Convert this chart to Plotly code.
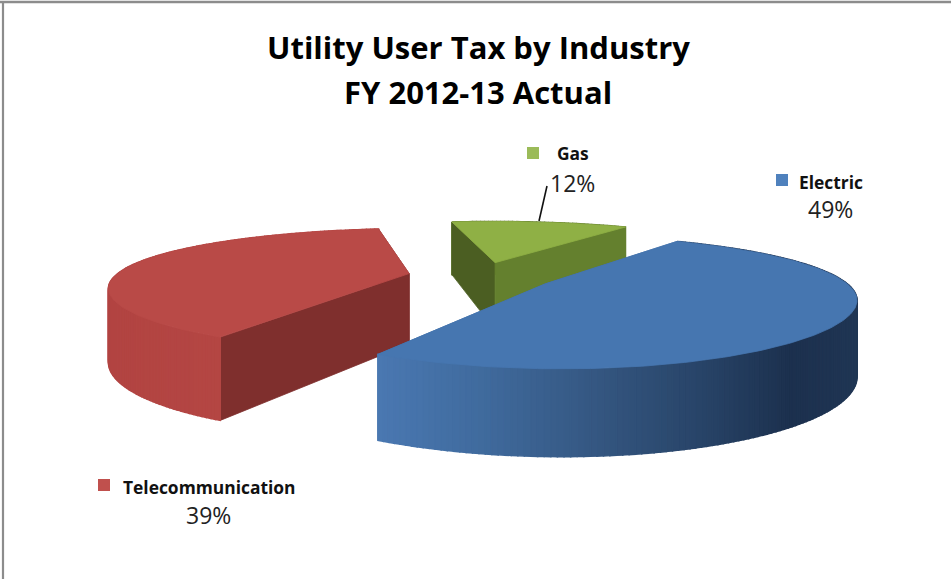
import numpy as np
import plotly.graph_objects as go

# Share of utility user tax by industry, FY 2012-13 (percent)
categories = ["Electric", "Telecommunication", "Gas"]
shares = [49, 39, 12]

# Legend and value label anchors per industry (pixel-based axes)
legend_marker_x = [782, 104, 533]
legend_marker_y = [180, 485, 153]
legend_text_x = [831, 208.5, 573]
legend_text_y = [182, 487, 153]
value_text_x = [830, 208, 572]
value_text_y = [209, 515, 183]

# Projection of the pie disc: tilted, with perspective toward the viewer
CX, CY = 481.0, 276.0
RX, RY = 294.0, 58.0
PERSPECTIVE_X = 0.20
PERSPECTIVE_Y = 0.26
DEPTH = 71.0
DEPTH_GROWTH = 0.21
EXPLODE = 0.25
START_ANGLE = 56.8

TOP = {"Electric": "#4676b0", "Telecommunication": "#b94a47", "Gas": "#8fb045"}
MARKER = {"Electric": "#4f81bd", "Telecommunication": "#c0504d", "Gas": "#9bbb59"}
# Shading of the outer wall as (screen x, rgb) stops
WALL = {
    "Electric": [(377, (74, 120, 178)), (480, (64, 107, 158)), (600, (52, 86, 128)),
                 (700, (40, 68, 104)), (790, (28, 48, 78)), (857, (32, 54, 84))],
    "Telecommunication": [(108, (178, 68, 66)), (222, (180, 70, 67))],
    "Gas": [(449, (100, 126, 48)), (626, (100, 126, 48))],
}
# Radial cut faces: (face at the slice's start edge, face at its end edge)
CUT = {
    "Electric": ("#3f6ca3", "#3f6ca3"),
    "Telecommunication": ("#7f2f2d", "#7f2f2d"),
    "Gas": ("#4b5e22", "#64802e"),
}


def project(gx, gy, lift=0.0):
    """Ground-plane point to screen pixels; lift=1 drops it to the pie's underside."""
    x = CX + RX * gx / (1.0 - PERSPECTIVE_X * gy)
    y = CY + RY * gy / (1.0 - PERSPECTIVE_Y * gy) + lift * DEPTH * (1.0 + DEPTH_GROWTH * gy)
    return x, y


def shade(stops, x):
    xs = [p[0] for p in stops]
    rgb = [np.interp(x, xs, [p[1][i] for p in stops]) for i in range(3)]
    return "rgb({:.0f},{:.0f},{:.0f})".format(*rgb)


def poly(xs, ys, color, width=0.8):
    return go.Scatter(
        x=list(xs) + [xs[0]], y=list(ys) + [ys[0]], mode="lines", fill="toself",
        fillcolor=color, line=dict(color=color, width=width), hoverinfo="skip", showlegend=False,
    )


# Slice angles run clockwise from the start angle
spans = []
angle = START_ANGLE
for name, v in zip(categories, shares):
    sweep = v * 3.6
    spans.append((name, angle, angle - sweep))
    angle -= sweep


def wall_strip(i, name, gx, gy):
    x1, y1 = project(gx[i], gy[i])
    x2, y2 = project(gx[i + 1], gy[i + 1])
    x3, y3 = project(gx[i + 1], gy[i + 1], 1)
    x4, y4 = project(gx[i], gy[i], 1)
    return poly([x1, x2, x3, x4], [y1, y2, y3, y4], shade(WALL[name], (x1 + x2) / 2), width=1.5)


fig = go.Figure()

# Paint the farthest slice first: Gas, then Telecommunication, then Electric
for name, a0, a1 in [spans[2], spans[1], spans[0]]:
    mid = np.radians((a0 + a1) / 2)
    ox, oy = EXPLODE * np.cos(mid), -EXPLODE * np.sin(mid)
    th = np.radians(np.linspace(a0, a1, int(abs(a0 - a1)) + 2))
    gx, gy = ox + np.cos(th), oy - np.sin(th)
    order = np.argsort(gy[:-1])
    front = [i for i in order if np.sin(th[i]) < 0]
    back = [i for i in order if np.sin(th[i]) >= 0]

    # Hidden back wall, then radial faces, then the wall facing the viewer
    for i in back:
        fig.add_trace(wall_strip(i, name, gx, gy))

    for edge, color in sorted(zip([0, -1], CUT[name]), key=lambda e: gy[e[0]]):
        ax, ay = project(ox, oy)
        bx, by = project(ox, oy, 1)
        ex, ey = project(gx[edge], gy[edge])
        fx, fy = project(gx[edge], gy[edge], 1)
        fig.add_trace(poly([ax, ex, fx, bx], [ay, ey, fy, by], color))

    for i in front:
        fig.add_trace(wall_strip(i, name, gx, gy))

    # Top face
    ax, ay = project(ox, oy)
    px, py = project(gx, gy)
    fig.add_trace(poly([ax] + list(px), [ay] + list(py), TOP[name]))

# Leader line from the Gas slice to its value
fig.add_trace(go.Scatter(x=[539, 547], y=[221, 186], mode="lines",
                         line=dict(color="#111111", width=1.6), hoverinfo="skip", showlegend=False))

# Legend keys
for name, mx, my in zip(categories, legend_marker_x, legend_marker_y):
    fig.add_trace(go.Scatter(x=[mx], y=[my], mode="markers", hoverinfo="skip", showlegend=False,
                             marker=dict(symbol="square", size=12, color=MARKER[name])))

# Category and value labels
annotations = []
for name, v, lx, ly, vx, vy in zip(categories, shares, legend_text_x, legend_text_y, value_text_x, value_text_y):
    annotations.append(dict(x=lx, y=ly, text=f"<b>{name}</b>", showarrow=False,
                            font=dict(family="Open Sans", size=17.4, color="#111111")))
    annotations.append(dict(x=vx, y=vy, text=f"{v}%", showarrow=False,
                            font=dict(family="Open Sans", size=23, color="#222222")))
annotations.append(dict(x=478, y=47, text="<b>Utility User Tax by Industry</b>", showarrow=False,
                        font=dict(family="Open Sans", size=31, color="#000000")))
annotations.append(dict(x=478, y=92, text="<b>FY 2012-13 Actual</b>", showarrow=False,
                        font=dict(family="Open Sans", size=31, color="#000000")))

fig.update_layout(
    width=951, height=579, autosize=False,
    margin=dict(l=0, r=0, t=0, b=0),
    paper_bgcolor="white", plot_bgcolor="white",
    xaxis=dict(range=[0, 951], visible=False, fixedrange=True),
    yaxis=dict(range=[579, 0], visible=False, fixedrange=True),
    annotations=annotations,
    shapes=[
        dict(type="line", x0=0, x1=951, y0=2, y1=2, line=dict(color="#8c8c8c", width=2.4)),
        dict(type="line", x0=3, x1=3, y0=2, y1=579, line=dict(color="#8c8c8c", width=2.2)),
    ],
)

fig.write_html("out.html")
